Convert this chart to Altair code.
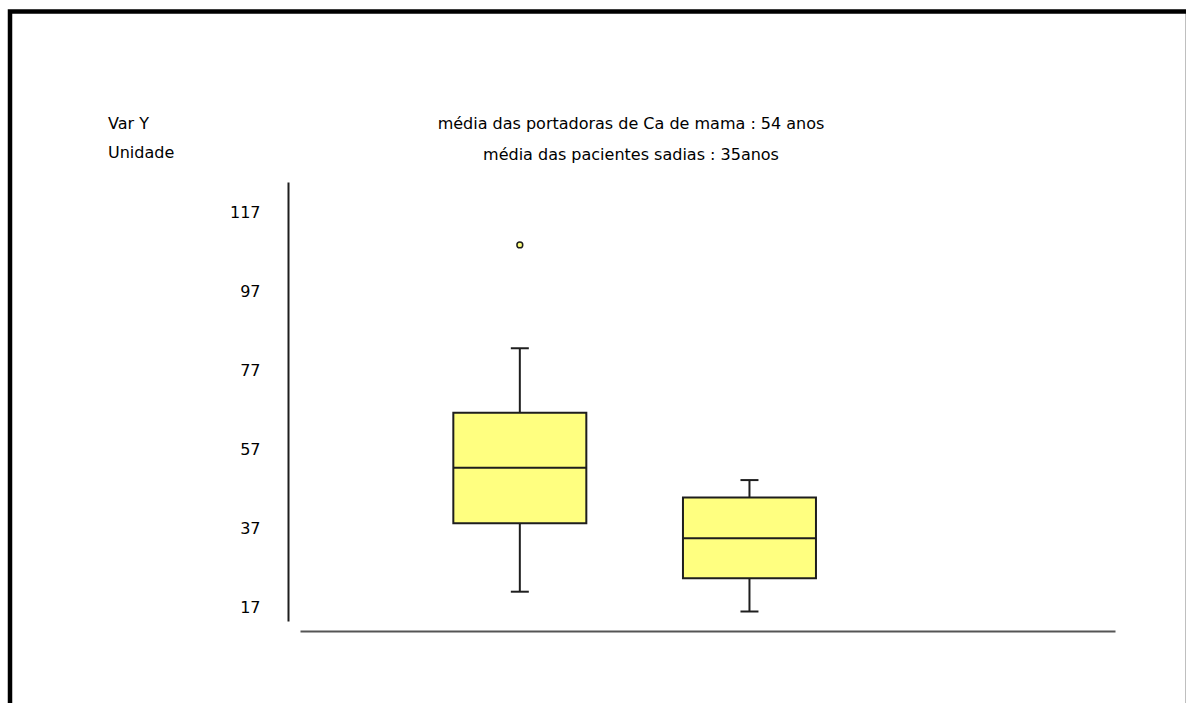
import altair as alt
import pandas as pd

# ---- data ----
groups = ["portadoras de Ca de mama", "pacientes sadias"]
positions = [1, 2]
whisker_low = [21.1, 16.1]
q1 = [38.4, 24.5]
median = [52.4, 34.6]
q3 = [66.3, 44.9]
whisker_high = [82.6, 49.3]
outlier_group = [1]
outlier_value = [108.7]
y_ticks = [17, 37, 57, 77, 97, 117]

left_header = ["Var Y", "Unidade"]
center_header = [
    "média das portadoras de Ca de mama : 54 anos",
    "média das pacientes sadias : 35anos",
]

FONT = "DejaVu Sans"
FILL = "#ffff80"
DARK = "#1e1e1e"

df = pd.DataFrame({
    "pos": positions, "group": groups, "lo": whisker_low, "q1": q1,
    "med": median, "q3": q3, "hi": whisker_high,
})
df_out = pd.DataFrame({"pos": outlier_group, "value": outlier_value})

xs = alt.Scale(domain=[0.0645, 3.570], nice=False, zero=False)
ys = alt.Scale(domain=[13.7, 124.6], nice=False, zero=False)
xaxis = alt.Axis(offset=10, labels=False, ticks=False, grid=False, title=None,
                 domainColor="#555555", domainWidth=2)
yaxis = alt.Axis(values=y_ticks, offset=12, ticks=False, tickSize=0, labelPadding=28,
                 grid=False, title=None, domainColor=DARK, domainWidth=2,
                 labelFont=FONT, labelFontSize=16, labelColor="black")


def X(f):
    return alt.X(f, type="quantitative", scale=xs, axis=xaxis)


def Y(f):
    return alt.Y(f, type="quantitative", scale=ys, axis=yaxis)


one = alt.Data(values=[{"k": 0}])

frame = alt.Chart(one).mark_rect(
    fill="white", fillOpacity=0, stroke="black", strokeWidth=4.5
).encode(x=alt.value(-290), x2=alt.value(888), y=alt.value(-170.5), y2=alt.value(600))

base = alt.Chart(df)
whisk_lo = base.mark_rule(color=DARK, strokeWidth=2).encode(x=X("pos"), y=Y("lo"), y2="q1")
whisk_hi = base.mark_rule(color=DARK, strokeWidth=2).encode(x=X("pos"), y=Y("q3"), y2="hi")
boxes = base.mark_bar(size=133, fill=FILL, stroke=DARK, strokeWidth=2).encode(
    x=X("pos"), y=Y("q1"), y2="q3")
meds = base.mark_tick(orient="horizontal", size=133, thickness=2, color=DARK, opacity=1).encode(
    x=X("pos"), y=Y("med"))
cap_lo = base.mark_tick(orient="horizontal", size=18, thickness=2, color=DARK, opacity=1).encode(
    x=X("pos"), y=Y("lo"))
cap_hi = base.mark_tick(orient="horizontal", size=18, thickness=2, color=DARK, opacity=1).encode(
    x=X("pos"), y=Y("hi"))
outl = alt.Chart(df_out).mark_point(
    shape="circle", filled=True, fill=FILL, stroke=DARK, strokeWidth=1.5, size=34, opacity=1
).encode(x=X("pos"), y=Y("value"))

texts = []
for t, yy in zip(left_header, [-58, -29]):
    texts.append(alt.Chart(one).mark_text(
        text=t, align="left", baseline="middle", font=FONT, fontSize=16, color="black"
    ).encode(x=alt.value(-192), y=alt.value(yy)))
for t, yy in zip(center_header, [-58, -27]):
    texts.append(alt.Chart(one).mark_text(
        text=t, align="center", baseline="middle", font=FONT, fontSize=16, color="black"
    ).encode(x=alt.value(331), y=alt.value(yy)))

chart = alt.layer(frame, whisk_lo, whisk_hi, boxes, meds, cap_lo, cap_hi, outl, *texts).properties(
    width=815, height=439,
    padding={"left": 300, "top": 182, "right": 71, "bottom": 82},
    autosize=alt.AutoSizeParams(type="none"),
    background="white",
).configure_view(stroke=None)

chart.save("out.html", embed_options={"renderer": "svg", "actions": False})
